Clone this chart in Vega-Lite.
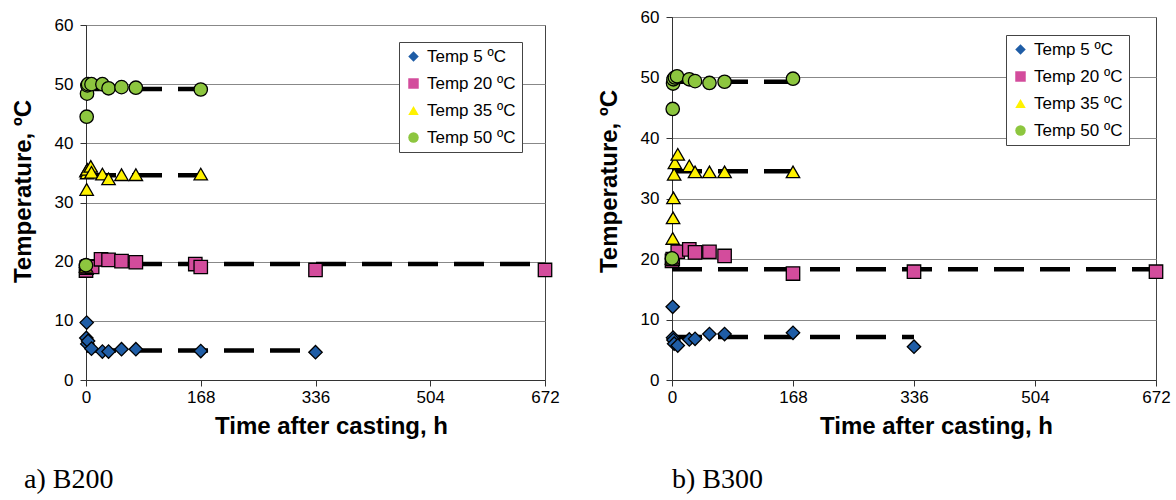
{
  "$schema": "https://vega.github.io/schema/vega-lite/v6.json",
  "padding": {"left": 10, "top": 7, "right": 5, "bottom": 5},
  "background": "white",
  "config": {
    "font": "Liberation Sans",
    "axis": {"labelFont": "Liberation Sans", "labelFontSize": 17, "labelColor": "black", "titleFont": "Liberation Sans", "titleFontSize": 24, "titleFontWeight": "bold", "titleColor": "black", "domainColor": "#333", "tickColor": "#333", "tickSize": 6, "gridColor": "#888", "gridWidth": 1},
    "axisX": {"grid": false, "labelPadding": 3, "titlePadding": 9, "labelFlush": false},
    "axisY": {"labelPadding": 7, "titlePadding": 19},
    "view": {"stroke": "#444", "strokeWidth": 1},
    "legend": {"title": null, "fillColor": "white", "strokeColor": "#444", "padding": 6, "labelFont": "Liberation Sans", "labelFontSize": 17, "labelColor": "black", "symbolSize": 110, "symbolStrokeColor": "black", "symbolStrokeWidth": 1.5, "rowPadding": 9, "labelOffset": 5, "cornerRadius": 0}
  },
  "datasets": {
    "b200_fit": [
      {"s": "Temp 5 ºC", "t0": 0, "t1": 336, "v": 5.0},
      {"s": "Temp 20 ºC", "t0": 0, "t1": 672, "v": 19.6},
      {"s": "Temp 35 ºC", "t0": 0, "t1": 168, "v": 34.6},
      {"s": "Temp 50 ºC", "t0": 0, "t1": 168, "v": 49.2}
    ],
    "b300_fit": [
      {"s": "Temp 5 ºC", "t0": 0, "t1": 336, "v": 7.1},
      {"s": "Temp 20 ºC", "t0": 0, "t1": 672, "v": 18.3},
      {"s": "Temp 35 ºC", "t0": 0, "t1": 168, "v": 34.5},
      {"s": "Temp 50 ºC", "t0": 0, "t1": 168, "v": 49.3}
    ],
    "b200_pts": [
      {"s": "Temp 5 ºC", "t": 0, "v": 19.0},
      {"s": "Temp 5 ºC", "t": 0.5, "v": 7.1},
      {"s": "Temp 5 ºC", "t": 1, "v": 9.7},
      {"s": "Temp 5 ºC", "t": 2, "v": 6.1},
      {"s": "Temp 5 ºC", "t": 3, "v": 6.6},
      {"s": "Temp 5 ºC", "t": 8, "v": 5.3},
      {"s": "Temp 5 ºC", "t": 24, "v": 4.8},
      {"s": "Temp 5 ºC", "t": 33, "v": 4.8},
      {"s": "Temp 5 ºC", "t": 52, "v": 5.2},
      {"s": "Temp 5 ºC", "t": 73, "v": 5.2},
      {"s": "Temp 5 ºC", "t": 168, "v": 4.9},
      {"s": "Temp 5 ºC", "t": 336, "v": 4.7},
      {"s": "Temp 20 ºC", "t": 0, "v": 18.5},
      {"s": "Temp 20 ºC", "t": 1, "v": 19.0},
      {"s": "Temp 20 ºC", "t": 3, "v": 19.2},
      {"s": "Temp 20 ºC", "t": 9, "v": 19.1},
      {"s": "Temp 20 ºC", "t": 22, "v": 20.4},
      {"s": "Temp 20 ºC", "t": 33, "v": 20.3},
      {"s": "Temp 20 ºC", "t": 52, "v": 20.1},
      {"s": "Temp 20 ºC", "t": 73, "v": 19.9},
      {"s": "Temp 20 ºC", "t": 160, "v": 19.6},
      {"s": "Temp 20 ºC", "t": 168, "v": 19.1},
      {"s": "Temp 20 ºC", "t": 336, "v": 18.6},
      {"s": "Temp 20 ºC", "t": 672, "v": 18.6},
      {"s": "Temp 35 ºC", "t": 0, "v": 19.2},
      {"s": "Temp 35 ºC", "t": 0.5, "v": 35.3},
      {"s": "Temp 35 ºC", "t": 1, "v": 32.2},
      {"s": "Temp 35 ºC", "t": 1.5, "v": 35.0},
      {"s": "Temp 35 ºC", "t": 2, "v": 35.6},
      {"s": "Temp 35 ºC", "t": 7, "v": 36.1},
      {"s": "Temp 35 ºC", "t": 8, "v": 35.1},
      {"s": "Temp 35 ºC", "t": 24, "v": 34.8},
      {"s": "Temp 35 ºC", "t": 33, "v": 34.0},
      {"s": "Temp 35 ºC", "t": 52, "v": 34.7},
      {"s": "Temp 35 ºC", "t": 73, "v": 34.7},
      {"s": "Temp 35 ºC", "t": 168, "v": 34.8},
      {"s": "Temp 50 ºC", "t": 0, "v": 19.4},
      {"s": "Temp 50 ºC", "t": 1, "v": 44.5},
      {"s": "Temp 50 ºC", "t": 1.5, "v": 48.4},
      {"s": "Temp 50 ºC", "t": 2, "v": 49.8},
      {"s": "Temp 50 ºC", "t": 3, "v": 50.0},
      {"s": "Temp 50 ºC", "t": 8, "v": 50.0},
      {"s": "Temp 50 ºC", "t": 24, "v": 50.0},
      {"s": "Temp 50 ºC", "t": 33, "v": 49.3},
      {"s": "Temp 50 ºC", "t": 52, "v": 49.5},
      {"s": "Temp 50 ºC", "t": 73, "v": 49.4},
      {"s": "Temp 50 ºC", "t": 168, "v": 49.1}
    ],
    "b300_pts": [
      {"s": "Temp 5 ºC", "t": 0, "v": 20.0},
      {"s": "Temp 5 ºC", "t": 1, "v": 12.1},
      {"s": "Temp 5 ºC", "t": 1.5, "v": 7.0},
      {"s": "Temp 5 ºC", "t": 2, "v": 6.6},
      {"s": "Temp 5 ºC", "t": 3, "v": 6.0},
      {"s": "Temp 5 ºC", "t": 8, "v": 5.7},
      {"s": "Temp 5 ºC", "t": 24, "v": 6.7},
      {"s": "Temp 5 ºC", "t": 32, "v": 6.8},
      {"s": "Temp 5 ºC", "t": 52, "v": 7.6},
      {"s": "Temp 5 ºC", "t": 73, "v": 7.6},
      {"s": "Temp 5 ºC", "t": 168, "v": 7.8},
      {"s": "Temp 5 ºC", "t": 336, "v": 5.5},
      {"s": "Temp 20 ºC", "t": 0, "v": 19.7},
      {"s": "Temp 20 ºC", "t": 1, "v": 20.0},
      {"s": "Temp 20 ºC", "t": 8, "v": 21.2},
      {"s": "Temp 20 ºC", "t": 24, "v": 21.6},
      {"s": "Temp 20 ºC", "t": 32, "v": 21.1},
      {"s": "Temp 20 ºC", "t": 52, "v": 21.2},
      {"s": "Temp 20 ºC", "t": 73, "v": 20.5},
      {"s": "Temp 20 ºC", "t": 168, "v": 17.6},
      {"s": "Temp 20 ºC", "t": 336, "v": 17.9},
      {"s": "Temp 20 ºC", "t": 672, "v": 17.9},
      {"s": "Temp 35 ºC", "t": 0, "v": 20.1},
      {"s": "Temp 35 ºC", "t": 1, "v": 23.4},
      {"s": "Temp 35 ºC", "t": 1.5, "v": 26.8},
      {"s": "Temp 35 ºC", "t": 2, "v": 30.1},
      {"s": "Temp 35 ºC", "t": 3, "v": 34.0},
      {"s": "Temp 35 ºC", "t": 4, "v": 35.9},
      {"s": "Temp 35 ºC", "t": 8, "v": 37.3},
      {"s": "Temp 35 ºC", "t": 24, "v": 35.4},
      {"s": "Temp 35 ºC", "t": 32, "v": 34.4},
      {"s": "Temp 35 ºC", "t": 52, "v": 34.4},
      {"s": "Temp 35 ºC", "t": 73, "v": 34.4},
      {"s": "Temp 35 ºC", "t": 168, "v": 34.4},
      {"s": "Temp 50 ºC", "t": 0, "v": 20.1},
      {"s": "Temp 50 ºC", "t": 1, "v": 44.8},
      {"s": "Temp 50 ºC", "t": 1.5, "v": 49.0},
      {"s": "Temp 50 ºC", "t": 2, "v": 49.7},
      {"s": "Temp 50 ºC", "t": 4, "v": 50.0},
      {"s": "Temp 50 ºC", "t": 7, "v": 50.2},
      {"s": "Temp 50 ºC", "t": 24, "v": 49.7},
      {"s": "Temp 50 ºC", "t": 32, "v": 49.4},
      {"s": "Temp 50 ºC", "t": 52, "v": 49.1},
      {"s": "Temp 50 ºC", "t": 73, "v": 49.3},
      {"s": "Temp 50 ºC", "t": 168, "v": 49.8}
    ]
  },
  "spacing": 36,
  "resolve": {"legend": {"fill": "independent", "shape": "independent"}},
  "hconcat": [
    {
      "spacing": -3,
      "resolve": {"legend": {"fill": "independent", "shape": "independent"}},
      "vconcat": [
        {
          "width": 459,
          "height": 1,
          "view": {"stroke": null},
          "data": {"values": []},
          "mark": {"type": "point", "opacity": 0}
        },
        {
          "width": 459,
          "height": 355,
          "title": {"text": "a) B200", "orient": "bottom", "anchor": "start", "frame": "bounds", "font": "Liberation Serif", "fontSize": 28, "fontWeight": "normal", "color": "black", "offset": 28, "dx": 13},
          "layer": [
            {
              "data": {"name": "b200_fit"},
              "mark": {"type": "rule", "strokeDash": [30, 16], "strokeWidth": 4.5, "color": "black", "strokeCap": "butt"},
              "encoding": {
                "x": {"field": "t0", "type": "quantitative", "scale": {"domain": [0, 672], "nice": false}, "axis": {"title": "Time after casting, h", "values": [0, 168, 336, 504, 672], "titleX": 245}},
                "x2": {"field": "t1"},
                "y": {"field": "v", "type": "quantitative", "scale": {"domain": [0, 60], "nice": false}, "axis": {"title": "Temperature, ºC", "values": [0, 10, 20, 30, 40, 50, 60], "titleY": 166}}
              }
            },
            {
              "data": {"name": "b200_pts"},
              "mark": {"type": "point", "filled": true, "stroke": "black", "strokeWidth": 1.3, "size": 180, "opacity": 1},
              "encoding": {
                "x": {"field": "t", "type": "quantitative", "scale": {"domain": [0, 672], "nice": false}, "axis": {"title": "Time after casting, h", "values": [0, 168, 336, 504, 672], "titleX": 245}},
                "y": {"field": "v", "type": "quantitative", "scale": {"domain": [0, 60], "nice": false}, "axis": {"title": "Temperature, ºC", "values": [0, 10, 20, 30, 40, 50, 60], "titleY": 166}},
                "fill": {"field": "s", "type": "nominal", "scale": {"domain": ["Temp 5 ºC", "Temp 20 ºC", "Temp 35 ºC", "Temp 50 ºC"], "range": ["#1F5DA6", "#D34C9C", "#FFF200", "#8DC63F"]}, "legend": {"orient": "none", "legendX": 313, "legendY": 17, "encode": {"symbols": {"update": {"stroke": {"value": "black"}, "strokeWidth": {"value": 1.5}}}}}},
                "shape": {"field": "s", "type": "nominal", "scale": {"domain": ["Temp 5 ºC", "Temp 20 ºC", "Temp 35 ºC", "Temp 50 ºC"], "range": ["diamond", "square", "triangle-up", "circle"]}, "legend": {"orient": "none", "legendX": 313, "legendY": 17, "encode": {"symbols": {"update": {"stroke": {"value": "black"}, "strokeWidth": {"value": 1.5}}}}}}
              }
            }
          ]
        }
      ]
    },
    {
      "width": 484,
      "height": 363,
      "title": {"text": "b) B300", "orient": "bottom", "anchor": "start", "frame": "group", "font": "Liberation Serif", "fontSize": 28, "fontWeight": "normal", "color": "black", "offset": 28},
      "layer": [
        {
          "data": {"name": "b300_fit"},
          "mark": {"type": "rule", "strokeDash": [30, 16], "strokeWidth": 4.5, "color": "black", "strokeCap": "butt"},
          "encoding": {
            "x": {"field": "t0", "type": "quantitative", "scale": {"domain": [0, 672], "nice": false}, "axis": {"title": "Time after casting, h", "values": [0, 168, 336, 504, 672], "titleX": 264}},
            "x2": {"field": "t1"},
            "y": {"field": "v", "type": "quantitative", "scale": {"domain": [0, 60], "nice": false}, "axis": {"title": "Temperature, ºC", "values": [0, 10, 20, 30, 40, 50, 60], "titleY": 164}}
          }
        },
        {
          "data": {"name": "b300_pts"},
          "mark": {"type": "point", "filled": true, "stroke": "black", "strokeWidth": 1.3, "size": 180, "opacity": 1},
          "encoding": {
            "x": {"field": "t", "type": "quantitative", "scale": {"domain": [0, 672], "nice": false}, "axis": {"title": "Time after casting, h", "values": [0, 168, 336, 504, 672], "titleX": 264}},
            "y": {"field": "v", "type": "quantitative", "scale": {"domain": [0, 60], "nice": false}, "axis": {"title": "Temperature, ºC", "values": [0, 10, 20, 30, 40, 50, 60], "titleY": 164}},
            "fill": {"field": "s", "type": "nominal", "scale": {"domain": ["Temp 5 ºC", "Temp 20 ºC", "Temp 35 ºC", "Temp 50 ºC"], "range": ["#1F5DA6", "#D34C9C", "#FFF200", "#8DC63F"]}, "legend": {"orient": "none", "legendX": 334, "legendY": 18, "encode": {"symbols": {"update": {"stroke": {"value": "black"}, "strokeWidth": {"value": 1.5}}}}}},
            "shape": {"field": "s", "type": "nominal", "scale": {"domain": ["Temp 5 ºC", "Temp 20 ºC", "Temp 35 ºC", "Temp 50 ºC"], "range": ["diamond", "square", "triangle-up", "circle"]}, "legend": {"orient": "none", "legendX": 334, "legendY": 18, "encode": {"symbols": {"update": {"stroke": {"value": "black"}, "strokeWidth": {"value": 1.5}}}}}}
          }
        }
      ]
    }
  ]
}
